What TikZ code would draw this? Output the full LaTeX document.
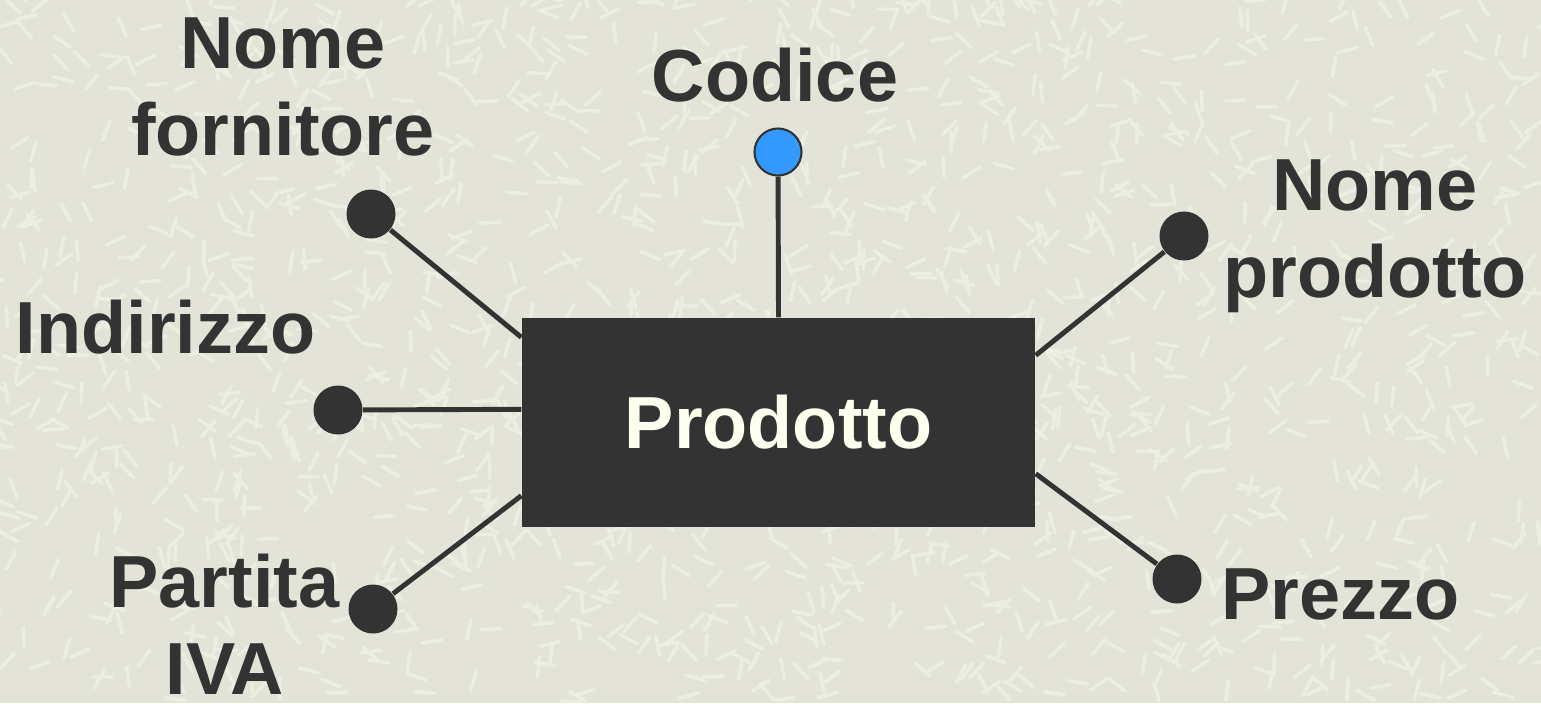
\documentclass[tikz,border=0pt]{standalone}
\usepackage{fontspec}
\setmainfont{Liberation Sans}
\usepackage{xcolor}
\usetikzlibrary{positioning, calc}

\definecolor{sfondo}{HTML}{E3E4D7}
\definecolor{striscia}{HTML}{EDEEE2}
\definecolor{scuro}{HTML}{333333}
\definecolor{azzurro}{HTML}{3399FF}
\definecolor{crema}{HTML}{FFFFF0}

\begin{document}
\begin{tikzpicture}[
    attr/.style={circle, fill=scuro, minimum size=4.9mm, inner sep=0pt},
    chiave/.style={attr, fill=azzurro, draw=scuro, line width=0.6pt, minimum size=4.7mm},
    etich/.style={text=scuro, font=\fontsize{21}{24.5}\selectfont\bfseries, align=center, anchor=base, inner sep=0pt},
    link/.style={draw=scuro, line width=1.4pt}]
    % textured background
    \fill[sfondo] (0,0) rectangle (15.41,7.03);
    \useasboundingbox (0,0) rectangle (15.41,7.03);
    \pgfmathsetseed{7}
    \foreach \i in {1,...,1600} {
        \pgfmathsetmacro{\px}{rnd*15.41}
        \pgfmathsetmacro{\py}{rnd*7.03}
        \pgfmathsetmacro{\ang}{rnd*180}
        \draw[striscia, line width=1pt, line cap=round] (\px,\py) -- ++(\ang:0.2);
    }
    % entity
    \node[fill=scuro, minimum width=5.13cm, minimum height=2.09cm, inner sep=0pt,
          text=crema, font=\fontsize{21}{24.5}\selectfont\bfseries] (prod) at (7.785,2.805) {Prodotto};
    % attributes
    \node[chiave] (codice) at (7.78,5.51) {};
    \node[attr] (fornitore) at (3.71,4.89) {};
    \node[attr] (indirizzo) at (3.38,2.93) {};
    \node[attr] (piva) at (3.73,0.94) {};
    \node[attr] (nomeprod) at (11.84,4.67) {};
    \node[attr] (prezzo) at (11.77,1.24) {};
    % links
    \draw[link] (prod.north) -- (codice);
    \draw[link] ($(prod.north west)+(0,-0.2)$) -- (fornitore);
    \draw[link] ($(prod.north west)+(0,-0.92)$) -- (indirizzo);
    \draw[link] ($(prod.south west)+(0,0.32)$) -- (piva);
    \draw[link] ($(prod.north east)+(0,-0.38)$) -- (nomeprod);
    \draw[link] ($(prod.south east)+(0,0.54)$) -- (prezzo);
    % labels (base = last line)
    \node[etich] (lcodice) at (7.75,6.02) {Codice};
    \node[etich] (lfornitore) at (2.83,5.48) {Nome\\fornitore};
    \node[etich] (lindirizzo) at (1.655,3.50) {Indirizzo};
    \node[etich] (lpiva) at (2.245,0.09) {Partita\\IVA};
    \node[etich] (lnomeprod) at (13.75,4.06) {Nome\\prodotto};
    \node[etich] (lprezzo) at (13.405,0.84) {Prezzo};
\end{tikzpicture}
\end{document}
